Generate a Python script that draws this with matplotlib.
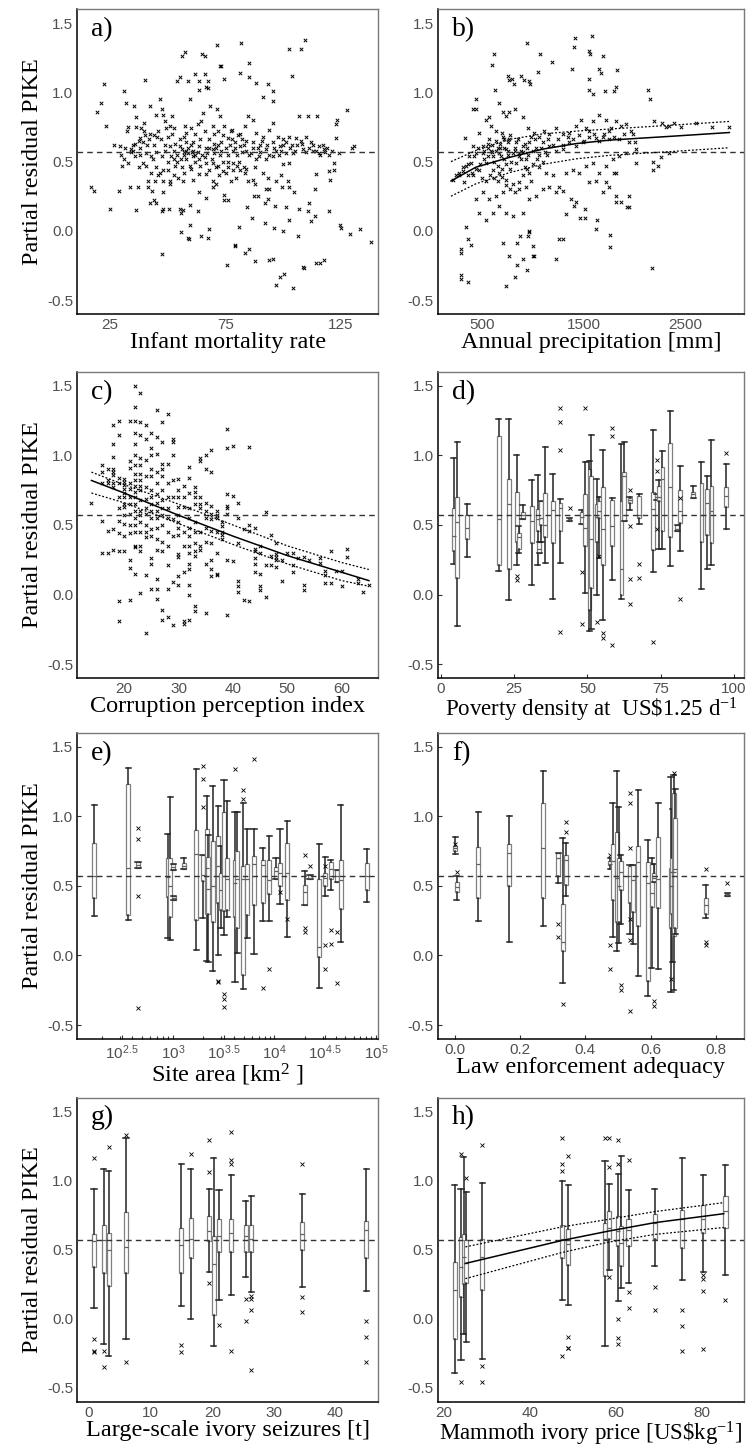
import matplotlib
matplotlib.use('Agg')
import matplotlib.pyplot as plt
import numpy as np

plt.rcParams['font.family'] = ['Liberation Sans', 'DejaVu Sans']
plt.rcParams['axes.unicode_minus'] = False

# ---------------- shared ----------------
Y_TICKS = [-0.5, 0.0, 0.5, 1.0, 1.5]
Y_TICKLABELS = ['-0.5', '0.0', '0.5', '1.0', '1.5']
REF_LEVEL = 0.57
YLABEL = 'Partial residual PIKE'

# ---------------- a) Infant mortality rate (scatter) ----------------
a_points = [
    (22.4,1.06),(21.1,0.92),(19.7,0.86),(23.6,0.76),(31,1.01),(40.3,1.09),(16.8,0.32),(18.2,0.29),(25,0.16),
    (29,0.29),(33.8,0.32),(36.5,0.15),(37.4,0.32),(41.7,0.32),(47.6,-0.17),(56.2,1.26),(57.5,1.29),(65,1.28),
    (66.4,1.26),(71.5,1.34),(72.5,1.19),(73,1.19),(74.2,1.1),(81.7,1.36),(85.1,1.21),(81.4,1.14),(85,1.11),
    (55.2,1.11),(54.2,1.08),(61.7,1.13),(66,1.13),(63.8,1.08),(67.4,1.08),(66.7,1.04),(67.5,1.03),(63.5,1.02),
    (59,1.08),(59.7,0.95),(88.1,1.07),(91.1,0.97),(93.3,1.06),(95.7,1.01),(95.4,0.94),(102.4,1.31),(103.8,1.12),
    (107.7,1.31),(109.6,1.38),(110.8,0.83),(106.6,0.83),(114.4,0.83),(127.6,0.87),(123,0.77),(123.4,0.8),
    (122.7,0.67),(129.9,0.6),(130.5,0.61),(119.8,0.43),(122,0.44),(122,0.49),(120,0.37),(114,0.41),(119.7,0.14),
    (124.4,0.04),(124.8,0.02),(128.9,-0.02),(133.2,0.01),(137.8,-0.08),(117.7,-0.21),(115.7,-0.23),(114.3,-0.23),
    (108.6,-0.26),(109,-0.27),(104.1,-0.41),(100.5,-0.31),(98.6,-0.33),(96.9,-0.39),(95.4,-0.2),(94,-0.21),
    (87.6,-0.22),(85.3,-0.13),(83.3,-0.16),(79.2,-0.1),(79.3,-0.11),(75.9,-0.25),(80.9,0.03),(86.6,0.09),
    (92.1,0.06),(96,0.02),(99.7,0.0),(102.7,0.08),(106.6,0.16),(106.3,-0.04),(110.6,0.14),(111.2,0.2),
    (113.9,0.11),(112,0.07),(113.9,0.3),(101.1,0.17),(104.5,0.28),(102.3,0.32),(99.5,0.32),(96.5,0.18),
    (93.6,0.23),(92.2,0.2),(89.3,0.25),(87.4,0.25),(84.3,0.17),(87,0.37),(83.6,0.42),(82.9,0.46),(79.7,0.38),
    (77.6,0.36),(74.2,0.26),(74.5,0.22),(76.1,0.22),(66.7,0.24),(63.8,0.28),(63.1,0.14),(59.5,0.19),(56.7,0.15),
    (55.9,0.13),(55.5,0.16),(50.6,0.16),(55.6,-0.01),(59,-0.05),(59.4,-0.06),(64.6,-0.04),(67.4,-0.05),
    (67.9,0.01),(59.5,0.04),(48,0.16),(47.4,0.14),(45.1,0.2),(44,0.22),(42.3,0.2),
    (32.6,0.72),(32.9,0.75),(36.5,0.75),(36.3,0.82),(35.3,0.90),(32.1,0.92),(39.9,0.78),(38.7,0.74),(42.6,0.9),
    (46.6,0.95),(45.1,0.84),(47.6,0.88),(47.9,0.84),(48.9,0.79),(52,0.83),(51.2,0.76),(49.2,0.74),(53,0.74),
    (45.4,0.68),(42.6,0.70),(40.3,0.69),(39.4,0.64),(37.7,0.65),(35.1,0.62),(34.4,0.59),(31.6,0.6),(29.3,0.61),
    (27,0.62),(30,0.55),(31.3,0.52),(30.5,0.47),(33.1,0.49),(37.5,0.46),(40.8,0.47),(43.7,0.52),(45.1,0.57),
    (47.6,0.54),(48.7,0.58),(51,0.61),(53.3,0.63),(55.2,0.66),(56.9,0.68),(58.1,0.71),(60.3,0.74),(57.4,0.76),
    (63.1,0.77),(64.6,0.79),(65.3,0.85),(68.2,0.9),(71.3,0.88),(72.5,0.83),(69.6,0.76),(71.7,0.72),(74.6,0.76),
    (77.5,0.72),(80.4,0.69),(83.3,0.76),(86.9,0.8),(88.3,0.71),(91.2,0.68),(94,0.73),(95.5,0.78),(97.7,0.68),
    (99.8,0.66),(102.7,0.68),(105.5,0.67),(107.7,0.65),(109.8,0.68),(112,0.64),(115.6,0.61),(117.8,0.59),
    (119.9,0.55),(115.6,0.56),(112.7,0.58),(108.5,0.59),(104.1,0.56),(101.2,0.56),(98.4,0.61),(95.5,0.64),
    (92.6,0.59),(89.7,0.54),(88.3,0.52),(92.6,0.52),(95.5,0.54),(99.8,0.48),(102.7,0.49),(99.1,0.4),
    (101.9,0.36),(97,0.36),(94,0.3),(92.6,0.3),(93.3,0.38),(91.2,0.42),(87.6,0.34),(84.7,0.36),(81.1,0.44),
    (78.2,0.49),(76.1,0.46),(73.9,0.43),(71,0.46),(69.6,0.49),(66.7,0.49),(63.8,0.52),(61,0.54),(58.8,0.56),
    (56.4,0.59),(58.1,0.52),(59.5,0.47),(56.4,0.46),(53.1,0.47),(50.2,0.5),(51.6,0.54),(48,0.44),(46.6,0.42),
    (45.8,0.4),(48,0.36),(50.9,0.36),(54.5,0.38),(56.7,0.36),(61,0.37),(63.8,0.41),(66.7,0.41),(69.6,0.36),
    (72.4,0.4),(75.2,0.42),(78.1,0.44),(72.5,0.55),(69.6,0.59),(75.4,0.6),(78.2,0.58),(81.1,0.61),(84,0.65),
    (86.9,0.6),(66.7,0.6),(63.8,0.61),(61,0.64),(58.1,0.64),(55.2,0.61),(53,0.58),(42.9,0.54),(40.8,0.56),
    (38.1,0.55),(35.8,0.54),(39.4,0.49),(43,0.42),(44.4,0.36),(41.5,0.36),(43.4,0.29),(48,0.28),(51,0.34),
    (69.6,0.32),(71,0.34),(81.1,0.7),(84.7,0.83),(60.5,0.57),(62,0.55),(57,0.57),(54,0.55),(64,0.66),(68,0.66),
    (70,0.63),(73,0.64),(76,0.67),(79,0.64),(82,0.57),(85,0.55),(90,0.62),(97,0.58),(100,0.62),(103,0.6),
    (106,0.62),(110,0.57),(113,0.62),(116,0.55),(118,0.57),(121,0.58),(124,0.56),
    (34,0.57),(35,0.58),(36,0.63),(38,0.6),(41,0.62),(42,0.66),(44,0.69),(46,0.72),(47,0.66),(49,0.62),
    (50,0.68),(52,0.7),(53,0.52),(54,0.5),(56,0.52),(57,0.55),(58,0.58),(59,0.6),(60,0.62),(61,0.58),(62,0.5),
    (63,0.57),(65,0.55),(66,0.53),(67,0.56),(68,0.6),(69,0.52),(70,0.56),(71,0.6),(72,0.62),(73,0.58),(74,0.5),
    (76,0.55),(77,0.62),(78,0.66),(79,0.6),(80,0.55),(81,0.5),(82,0.66),(83,0.62),(84,0.58),(86,0.56),(87,0.64),
    (89,0.6),(90,0.57),(91,0.65),(93,0.62),(94,0.55),(96,0.6),(98,0.55),(99,0.58),(101,0.64),(104,0.62),
    (105,0.58),(108,0.63),(111,0.6),(114,0.58),(117,0.62),(119,0.6),(45,0.46),(50,0.44),(53,0.4),(57,0.42),
    (60,0.45),(64,0.47),(68,0.44),(72,0.47),(76,0.5),(80,0.47),(84,0.45),(88,0.46),(44,0.62),(40,0.72),
    (38,0.67),(62,0.7),(66,0.72),(70,0.7),(74,0.69),(78,0.73),
]

# ---------------- b) Annual precipitation (scatter + fit) ----------------
b_points = [
    (1412,1.39),(1402,1.33),(1586,1.41),(1556,1.30),(1560,1.28),(1687,1.26),(1067,1.28),(943,1.36),(621,1.28),
    (602,1.2),(1186,1.22),(1382,1.17),(1651,1.17),(1671,1.14),(1828,1.16),(1549,1.1),(1048,1.15),(756,1.12),
    (762,1.09),(800,1.10),(884,1.12),(913,1.09),(959,1.08),(972,1.06),(812,1.06),(631,1.02),(1556,1.02),
    (1589,0.99),(1818,1.04),(1795,1.01),(1707,1.01),(2132,1.02),(2152,0.95),(441,0.95),(412,0.88),
    (293,-0.32),(293,-0.35),(366,-0.37),(736,-0.40),(828,-0.33),(844,-0.25),(943,-0.28),(903,-0.2),(766,-0.18),
    (1002,-0.18),(1010,-0.18),(1231,-0.2),(949,-0.04),(874,-0.04),(848,-0.09),(710,-0.09),(1005,-0.11),
    (959,0.0),(965,-0.01),(1258,-0.06),(1300,-0.06),(1760,-0.12),(1756,-0.03),(293,-0.13),(293,-0.16),
    (359,-0.06),(389,-0.1),(343,0.03),(2172,-0.27),(1622,0.01),(1632,0.08),(1464,0.09),(1517,0.09),(1327,0.12),
    (1517,0.16),(1924,0.17),(1871,0.21),(1818,0.21),(1425,0.21),(1402,0.18),(1372,0.23),(1300,0.29),(1228,0.28),
    (441,0.88),(474,0.71),(539,0.80),(572,0.82),(589,0.76),(670,0.92),(703,0.86),(736,0.83),(769,0.86),
    (825,0.88),(900,0.82),(949,0.74),(1015,0.71),(1064,0.68),(1113,0.72),(1163,0.70),(1228,0.74),(1294,0.70),
    (1359,0.71),(1425,0.76),(1474,0.80),(1523,0.74),(1589,0.79),(1655,0.84),(1720,0.80),(1769,0.74),
    (1818,0.79),(1868,0.76),(1917,0.77),(1966,0.72),(1753,0.66),(1687,0.68),(1622,0.67),(1556,0.68),
    (1490,0.64),(1425,0.61),(1359,0.64),(1294,0.59),(1228,0.58),(1163,0.61),(1097,0.64),(1031,0.60),
    (966,0.64),(900,0.61),(835,0.64),(769,0.66),(703,0.68),(638,0.72),(572,0.66),(507,0.61),(441,0.56),
    (375,0.54),(343,0.47),(310,0.43),(277,0.40),(408,0.40),(474,0.44),(539,0.49),(605,0.54),(670,0.56),
    (736,0.59),(802,0.56),(867,0.54),(933,0.52),(998,0.48),(1064,0.46),(1130,0.42),(1195,0.40),(605,0.44),
    (670,0.42),(736,0.37),(802,0.34),(867,0.30),(933,0.32),(703,0.28),(638,0.25),(572,0.23),(507,0.28),
    (441,0.23),(474,0.13),(539,0.08),(605,0.13),(670,0.18),(736,0.13),(802,0.11),(900,0.13),(966,0.23),
    (1031,0.25),(1097,0.30),(1163,0.32),(1261,0.32),(1327,0.42),(1392,0.44),(1458,0.42),(1523,0.47),
    (1589,0.49),(1655,0.42),(1720,0.47),(1786,0.52),(1851,0.54),(1917,0.56),(1950,0.64),(2015,0.59),
    (2008,0.64),(1982,0.70),(1556,0.35),(1622,0.36),(1720,0.35),(1802,0.42),(1687,0.28),(1753,0.32),
    (1818,0.25),(1950,0.25),(1950,0.17),(1818,0.42),(2015,0.49),(2179,0.44),(2228,0.47),(2261,0.53),
    (2179,0.50),(2195,0.79),(2274,0.78),(2340,0.76),(2389,0.78),(2454,0.75),(2602,0.78),(2766,0.75),
    (2930,0.75),(2307,0.75),(2343,0.56),
    (211,0.37),(244,0.40),(277,0.42),(316,0.46),(359,0.48),(326,0.35),(392,0.49),(425,0.54),(333,0.67),
    (408,0.61),(458,0.60),(507,0.56),(556,0.54),(589,0.58),(654,0.60),(687,0.54),(720,0.52),(753,0.55),
    (786,0.50),(835,0.49),(884,0.52),(926,0.46),(959,0.42),(560,0.60),(600,0.62),(640,0.58),(680,0.63),
    (720,0.60),(760,0.64),(820,0.58),(860,0.56),(900,0.57),(940,0.60),(1000,0.58),(1060,0.55),(520,0.52),
    (480,0.48),(440,0.45),(400,0.42),(360,0.40),(620,0.50),(660,0.47),(700,0.45),(740,0.48),(780,0.45),
    (520,0.58),(560,0.63),(600,0.57),(640,0.65),(680,0.60),(700,0.71),(720,0.66),(760,0.58),(780,0.69),
    (820,0.60),(850,0.66),(880,0.58),(920,0.63),(950,0.55),(980,0.68),(1020,0.66),(1080,0.6),(1120,0.57),
    (1150,0.66),(1200,0.62),(1250,0.66),(1300,0.62),(1350,0.68),(1400,0.66),(1450,0.69),(1500,0.65),
    (1550,0.72),(1600,0.7),(1650,0.65),(1700,0.7),(1750,0.72),(1800,0.68),(1850,0.66),(1900,0.7),(500,0.38),
    (540,0.36),(580,0.40),(620,0.38),(660,0.36),(700,0.39),(740,0.33),(780,0.30),(820,0.28),(860,0.35),
    (900,0.40),(940,0.45),(980,0.36),(1040,0.52),(1100,0.50),(1140,0.55),
]
b_fit_x = [195, 441, 769, 1097, 1425, 1753, 2081, 2409, 2934]
b_fit = [0.36, 0.46, 0.53, 0.59, 0.63, 0.655, 0.67, 0.685, 0.71]
b_upper = [0.50, 0.58, 0.66, 0.70, 0.72, 0.735, 0.75, 0.765, 0.79]
b_lower = [0.25, 0.34, 0.42, 0.48, 0.52, 0.545, 0.56, 0.575, 0.60]

# ---------------- c) Corruption perception index ----------------
c_columns = {
    14: [0.66],
    16: [0.93, 0.88, 0.80, 0.53, 0.30],
    17: [0.90, 0.82, 0.80, 0.46, 0.30],
    18: [1.22, 1.08, 0.99, 0.90, 0.88, 0.86, 0.80, 0.77, 0.47, 0.32],
    19: [1.25, 1.15, 0.84, 0.80, 0.70, 0.62, 0.53, 0.44, 0.31, -0.05, -0.19],
    20: [0.83, 0.81, 0.79, 0.76, 0.73, 0.70, 0.65, 0.63, 0.57, 0.51, 0.42, 0.31],
    21: [1.25, 0.96, 0.91, 0.80, 0.76, 0.70, 0.65, 0.58, 0.50, 0.44, 0.25, 0.19, -0.04],
    22: [1.50, 1.35, 1.25, 1.16, 1.08, 1.0, 0.93, 0.87, 0.82, 0.78, 0.74, 0.70, 0.65, 0.60, 0.55, 0.50,
         0.45, 0.35, 0.34, 0.15],
    23: [1.45, 1.24, 1.15, 0.98, 0.93, 0.87, 0.82, 0.78, 0.75, 0.68, 0.60, 0.57, 0.52, 0.45, 0.35, 0.31, 0.01],
    24: [1.22, 1.12, 0.97, 0.85, 0.77, 0.69, 0.62, 0.58, 0.50, 0.45, 0.41, 0.14, -0.28],
    25: [1.16, 1.05, 1.0, 0.90, 0.85, 0.75, 0.70, 0.65, 0.60, 0.55, 0.47, 0.42, 0.26, 0.22, 0.04],
    26: [1.33, 1.13, 1.01, 0.88, 0.80, 0.72, 0.66, 0.60, 0.55, 0.48, 0.40, 0.32, 0.11, 0.04, -0.03],
    27: [1.24, 1.10, 0.94, 0.90, 0.85, 0.75, 0.68, 0.62, 0.57, 0.50, 0.38, 0.31, -0.11, -0.18],
    28: [1.30, 0.94, 0.80, 0.70, 0.62, 0.55, 0.45, 0.35, 0.21, 0.04, -0.16],
    29: [1.12, 1.10, 1.0, 0.82, 0.70, 0.54, 0.42, 0.09, -0.22],
    30: [0.83, 0.75, 0.70, 0.63, 0.57, 0.52, 0.48, 0.43, 0.29, 0.27, 0.13, 0.07],
    31: [0.78, 0.70, 0.63, 0.45, 0.35, 0.16, -0.19, -0.21],
    32: [0.92, 0.84, 0.73, 0.62, 0.55, 0.48, 0.42, 0.35, 0.30, 0.22, 0.18, 0.07, 0.00, -0.18],
    33: [0.77, 0.74, 0.70, 0.65, 0.52, 0.45, 0.37, 0.31, 0.28, -0.08, -0.12],
    34: [0.98, 0.96, 0.70, 0.65, 0.62, 0.45, 0.35, 0.32],
    35: [1.0, 0.90, 0.66, 0.60, 0.55, 0.48, 0.38, 0.22, -0.13],
    36: [1.04, 0.88, 0.64, 0.58, 0.54, 0.46, 0.37, 0.25, 0.18, 0.13],
    37: [0.60, 0.57, 0.55, 0.45, 0.30, 0.15, 0.14],
    38: [0.52, 0.49, 0.45, 0.43, 0.40],
    39: [1.19, 1.05, 0.72, 0.64, 0.62, 0.58, 0.25, -0.15],
    40: [1.07, 0.71, 0.24],
    41: [0.66, 0.55, 0.37, 0.10, 0.06, 0.02],
    42: [0.47, -0.04],
    43: [1.06, 0.50, 0.46, -0.05],
    44: [0.48, 0.33, 0.31, 0.26, 0.22, 0.16],
    45: [0.35, 0.30, 0.15, 0.06, 0.03],
    46: [0.59, 0.21, -0.02],
    47: [0.43, 0.28, 0.21],
    48: [0.37, 0.29, 0.27, 0.25, 0.20],
    49: [0.25, 0.10],
    50: [0.30],
    51: [0.30, 0.21, 0.16],
    52: [0.26],
    53: [0.27, 0.07, 0.03],
    54: [0.25],
    56: [0.26, 0.23],
    57: [0.17, 0.14, 0.08],
    58: [0.31, 0.08],
    59: [0.17],
    60: [0.17, 0.06],
    61: [0.33, 0.27],
    63: [0.11, 0.08],
    64: [0.02],
    65: [0.07],
}
c_fit_x = [14, 20, 30, 40, 50, 60, 65]
c_fit = [0.82, 0.73, 0.57, 0.42, 0.28, 0.16, 0.10]
c_upper = [0.88, 0.79, 0.65, 0.50, 0.35, 0.23, 0.18]
c_lower = [0.73, 0.66, 0.51, 0.36, 0.22, 0.10, 0.06]

# ---------------- boxplot panels: (position, whislo, q1, med, q3, whishi, outliers) ----------------
d_boxes = [
    (4.4, 0.22, 0.31, 0.42, 0.62, 0.98, []), (5.6, -0.23, 0.12, 0.52, 0.70, 1.10, []),
    (9.0, 0.27, 0.40, 0.48, 0.57, 0.65, []), (19.7, 0.17, 0.21, 0.54, 1.14, 1.26, []),
    (23.2, -0.04, 0.18, 0.65, 0.83, 1.26, []), (25.9, 0.21, 0.38, 0.50, 0.74, 1.00, [0.13, 0.105]),
    (26.6, 0.30, 0.33, 0.41, 0.44, 0.49, []), (28.0, 0.54, 0.54, 0.57, 0.59, 0.645, []),
    (31.0, 0.07, 0.37, 0.53, 0.635, 0.82, []), (33.1, 0.21, 0.455, 0.54, 0.615, 0.86, []),
    (33.6, 0.30, 0.30, 0.33, 0.38, 0.38, []), (34.2, 0.38, 0.50, 0.55, 0.67, 0.67, []),
    (35.6, 0.23, 0.41, 0.50, 0.73, 1.06, []), (38.2, -0.03, 0.37, 0.61, 0.67, 0.87, []),
    (40.8, 0.225, 0.455, 0.62, 0.66, 0.69, [1.34, 1.24, 1.04, -0.27]), (43.9, 0.53, 0.53, 0.54, 0.55, 0.55, [0.62]),
    (48.1, 0.51, 0.51, 0.56, 0.59, 0.61, [0.16, -0.21]), (49.2, 0.01, 0.35, 0.48, 0.72, 0.95, [1.34]),
    (50.7, -0.26, -0.11, 0.57, 0.90, 0.96, []), (51.3, -0.245, 0.05, 0.40, 0.85, 1.145, []),
    (53.1, 0.0, 0.38, 0.56, 0.65, 0.83, [-0.20]), (54.0, 0.26, 0.55, 0.60, 0.67, 0.70, [0.28]),
    (55.3, -0.18, 0.21, 0.47, 0.775, 1.04, [-0.28, -0.31]), (58.5, 0.105, 0.35, 0.49, 0.68, 0.695, [1.20, 1.14, -0.365]),
    (61.6, -0.03, 0.0, 0.18, 0.67, 1.08, []), (62.5, 0.53, 0.53, 0.85, 0.88, 1.10, []),
    (64.4, 0.61, 0.66, 0.68, 0.695, 0.70, [0.75, 0.49, 0.11, -0.07]), (67.6, 0.51, 0.55, 0.575, 0.71, 0.72, [0.22, 0.12]),
    (72.4, 0.16, 0.32, 0.615, 0.74, 1.18, [-0.34]), (73.6, 0.68, 0.68, 0.70, 0.72, 0.72, [0.965, 0.89, 0.47]),
    (74.4, 0.33, 0.67, 0.70, 0.78, 0.82, []), (75.6, 0.33, 0.455, 0.83, 0.92, 1.03, []),
    (78.3, 0.205, 0.41, 0.77, 1.09, 1.32, []), (80.6, 0.455, 0.455, 0.47, 0.50, 0.50, []),
    (81.7, 0.315, 0.515, 0.60, 0.755, 0.924, [0.695, -0.035]), (86.1, 0.695, 0.695, 0.72, 0.74, 0.78, []),
    (88.9, 0.04, 0.375, 0.575, 0.80, 0.955, []), (90.8, 0.18, 0.43, 0.66, 0.76, 0.85, []),
    (92.3, 0.21, 0.37, 0.60, 0.78, 1.11, []), (97.4, 0.47, 0.63, 0.71, 0.77, 0.935, [1.02]),
]

# e) positions are log10(site area in km^2)
e_boxes = [
    (2.228, 0.285, 0.417, 0.57, 0.807, 1.08, []), (2.563, 0.253, 0.29, 0.627, 1.23, 1.35, []),
    (2.658, 0.626, 0.626, 0.65, 0.675, 0.675, [0.92, 0.84, 0.43, -0.38]), (2.951, 0.126, 0.42, 0.566, 0.70, 0.874, []),
    (2.975, 0.114, 0.28, 0.50, 0.70, 1.14, []), (3.006, 0.614, 0.614, 0.635, 0.655, 0.655, []),
    (3.012, 0.40, 0.40, 0.41, 0.43, 0.43, []), (3.108, 0.62, 0.62, 0.64, 0.667, 0.70, []),
    (3.232, 0.036, 0.253, 0.73, 0.90, 1.34, []), (3.295, 0.27, 0.535, 0.58, 0.72, 0.72, [1.365, 1.27, 1.065]),
    (3.335, -0.04, 0.295, 0.63, 0.91, 1.15, []), (3.35, -0.05, 0.30, 0.48, 0.71, 0.87, []),
    (3.394, -0.115, 0.24, 0.50, 0.82, 1.22, []), (3.449, 0.0, 0.38, 0.64, 0.86, 1.076, [-0.18, -0.19]),
    (3.47, 0.20, 0.33, 0.47, 0.595, 0.79, []), (3.505, 0.15, 0.32, 0.57, 1.03, 1.26, [-0.28, -0.31, -0.37]),
    (3.537, 0.28, 0.33, 0.55, 0.70, 1.11, []), (3.613, -0.19, 0.28, 0.52, 0.69, 1.03, [1.34]),
    (3.636, 0.02, 0.20, 0.55, 0.75, 1.03, []), (3.695, -0.24, -0.14, 0.55, 0.64, 1.10, [1.19, 1.125]),
    (3.734, 0.126, 0.29, 0.55, 0.66, 0.91, []), (3.80, 0.01, 0.36, 0.655, 0.715, 0.91, [1.41]),
    (3.886, 0.246, 0.38, 0.65, 0.69, 0.77, [-0.235]), (3.951, 0.246, 0.44, 0.54, 0.69, 0.86, [-0.10]),
    (4.017, 0.547, 0.547, 0.61, 0.636, 0.70, []), (4.056, 0.367, 0.50, 0.595, 0.667, 0.91, [0.46]),
    (4.128, 0.13, 0.40, 0.595, 0.81, 0.97, [0.26]), (4.299, 0.36, 0.36, 0.46, 0.504, 0.61, [0.72, 0.20, 0.17]),
    (4.35, 0.55, 0.55, 0.56, 0.58, 0.58, [0.64]), (4.443, -0.235, -0.01, 0.06, 0.547, 0.80, []),
    (4.50, 0.43, 0.50, 0.56, 0.595, 0.71, [0.64, 0.077, -0.10]), (4.555, 0.47, 0.55, 0.62, 0.67, 0.69, [0.18, 0.086]),
    (4.62, 0.53, 0.53, 0.57, 0.615, 0.615, [0.17, -0.20]), (4.654, 0.097, 0.337, 0.54, 0.687, 1.084, []),
    (4.909, 0.386, 0.47, 0.57, 0.667, 0.763, []),
]

f_boxes = [
    (0.000, 0.73, 0.75, 0.77, 0.79, 0.85, [0.80]), (0.005, 0.40, 0.46, 0.49, 0.53, 0.57, [0.60]),
    (0.071, 0.25, 0.415, 0.66, 0.78, 1.03, []), (0.166, 0.10, 0.50, 0.74, 0.80, 1.0, []),
    (0.271, 0.215, 0.415, 0.77, 1.10, 1.33, []), (0.317, 0.52, 0.57, 0.70, 0.74, 0.74, [0.23, 0.13]),
    (0.330, -0.20, 0.03, 0.10, 0.37, 0.845, [-0.35]), (0.340, 0.43, 0.51, 0.69, 0.72, 0.81, [0.96, 0.89]),
    (0.476, 0.62, 0.65, 0.66, 0.68, 0.70, [0.72, 0.075, -0.10]), (0.484, 0.13, 0.40, 0.68, 0.80, 1.10, []),
    (0.496, 0.03, 0.24, 0.56, 0.89, 1.33, []), (0.502, 0.09, 0.24, 0.50, 0.70, 1.07, []),
    (0.509, 0.23, 0.47, 0.60, 0.68, 0.72, [-0.21, -0.25]),
    (0.537, 0.155, 0.38, 0.57, 0.64, 0.65, [1.17, 1.10, 0.77, 0.26, 0.11, -0.40]),
    (0.547, 0.08, 0.31, 0.54, 0.65, 0.65, []), (0.562, -0.15, 0.21, 0.67, 0.79, 1.19, []),
    (0.592, -0.29, -0.18, 0.52, 0.67, 0.83, []), (0.604, -0.09, 0.35, 0.45, 0.66, 0.70, []),
    (0.612, 0.53, 0.53, 0.56, 0.59, 0.66, [-0.33, -0.36]), (0.624, -0.10, 0.34, 0.55, 0.855, 1.10, []),
    (0.663, -0.26, 0.20, 0.50, 0.63, 1.28, [-0.17]), (0.667, -0.05, 0.30, 0.60, 0.70, 1.05, []),
    (0.671, -0.25, 0.14, 0.60, 1.17, 1.30, [1.31]), (0.676, 0.155, 0.20, 0.62, 0.99, 1.20, []),
    (0.770, 0.27, 0.30, 0.36, 0.41, 0.51, [0.62, 0.095, 0.075]), (0.836, 0.43, 0.43, 0.44, 0.45, 0.45, [0.52]),
]

g_boxes = [
    (0.8, 0.08, 0.375, 0.56, 0.615, 0.94, [1.16, -0.15, -0.23, -0.24]),
    (2.4, -0.18, 0.33, 0.57, 0.68, 1.08, [-0.23, -0.35]),
    (3.2, -0.27, 0.24, 0.50, 0.62, 1.07, [1.24]),
    (6.0, -0.15, 0.33, 0.52, 0.77, 1.31, [1.33, -0.31]),
    (15.0, 0.09, 0.33, 0.53, 0.66, 1.12, [-0.19, -0.24]),
    (16.5, 0.0, 0.44, 0.575, 0.73, 1.08, [1.19]),
    (19.5, 0.335, 0.56, 0.635, 0.74, 0.94, [1.29, 1.06, 0.26]),
    (20.2, -0.20, 0.03, 0.395, 0.60, 1.16, []),
    (21.1, 0.135, 0.48, 0.60, 0.72, 0.93, [-0.045]),
    (23.1, 0.17, 0.48, 0.62, 0.72, 1.04, [1.35, 1.15, 1.12, -0.23]),
    (25.4, 0.30, 0.48, 0.60, 0.68, 0.85, [0.14, -0.02]),
    (26.3, 0.19, 0.48, 0.575, 0.68, 0.89, [0.166, 0.14, 0.06, -0.37]),
    (34.6, 0.23, 0.50, 0.615, 0.70, 0.90, [1.12, 0.16, 0.05]),
    (45.0, 0.20, 0.44, 0.64, 0.71, 1.08, [-0.015, -0.13, -0.31]),
]

h_boxes = [
    (22.5, -0.39, -0.15, 0.21, 0.41, 0.97, []),
    (24.0, -0.30, 0.16, 0.375, 0.59, 0.94, [1.19, -0.46]),
    (24.6, -0.11, 0.25, 0.45, 0.61, 1.17, []),
    (25.2, -0.17, 0.26, 0.40, 0.57, 0.92, [1.02]),
    (28.9, -0.29, 0.21, 0.45, 0.575, 0.98, [1.26, -0.34, -0.46]),
    (47.6, 0.135, 0.44, 0.58, 0.68, 1.0, [1.31, 1.12, 1.07, -0.27]),
    (49.0, 0.10, 0.39, 0.54, 0.65, 0.97, [1.18, -0.13, -0.21, -0.215]),
    (57.5, -0.20, 0.31, 0.575, 0.695, 1.14, [1.31]),
    (58.5, 0.35, 0.575, 0.66, 0.78, 0.975, [1.31, 1.10, 0.30]),
    (60.6, 0.125, 0.525, 0.635, 0.74, 1.05, [1.29, 1.12, 0.0, -0.14, -0.18]),
    (61.3, 0.22, 0.38, 0.55, 0.67, 1.175, []),
    (63.0, 0.26, 0.525, 0.645, 0.72, 0.93, [1.15, 0.19, 0.08]),
    (69.1, 0.38, 0.575, 0.69, 0.76, 0.935, [0.226, 0.065]),
    (75.5, 0.28, 0.51, 0.72, 0.79, 1.16, [0.065, -0.05, -0.23]),
    (80.4, 0.335, 0.62, 0.72, 0.82, 1.04, [0.315, 0.29, 0.20, -0.22]),
    (85.6, 0.315, 0.66, 0.78, 0.89, 1.11, [0.135]),
]
h_fit_x = [25.0, 47.6, 58.5, 69.1, 85.2]
h_fit = [0.40, 0.567, 0.635, 0.695, 0.76]
h_upper = [0.52, 0.665, 0.72, 0.775, 0.84]
h_lower = [0.29, 0.48, 0.555, 0.61, 0.66]

# ---------------- drawing ----------------
fig = plt.figure(figsize=(7.52, 14.48), dpi=100)
LEFT = [0.1028, 0.5824]
WIDTH = [0.400, 0.4069]
ROW_BOTTOM = [0.7832, 0.5318, 0.2825, 0.0320]
ROW_H = [0.2104, 0.2113, 0.2113, 0.2100]


def make_ax(row, col):
    return fig.add_axes([LEFT[col], ROW_BOTTOM[row], WIDTH[col], ROW_H[row]])


def style(ax, letter, xlabel, ylab, ticks=False, xlabel_size=17.5):
    ax.set_ylim(-0.6, 1.6)
    ax.set_yticks(Y_TICKS)
    ax.set_yticklabels(Y_TICKLABELS)
    for s in ['left', 'bottom']:
        ax.spines[s].set_color('black')
        ax.spines[s].set_linewidth(1.1)
    for s in ['top', 'right']:
        ax.spines[s].set_color('#7a7a7a')
        ax.spines[s].set_linewidth(1.0)
    ax.tick_params(which='both', labelsize=11, labelcolor='#505050', direction='in',
                   length=3 if ticks else 0, width=0.8, color='#333333', pad=3)
    ax.tick_params(which='minor', length=2 if ticks else 0)
    ax.axhline(REF_LEVEL, ls=(0, (4, 3)), color='#333333', lw=1.0, zorder=6)
    ax.text(0.045, 0.975, letter, transform=ax.transAxes, fontfamily='Liberation Serif',
            fontsize=20, va='top', ha='left')
    ax.set_xlabel(xlabel, fontfamily='Liberation Serif', fontsize=xlabel_size, labelpad=0)
    if ylab:
        ax.set_ylabel(YLABEL, fontfamily='Liberation Serif', fontsize=17.5, labelpad=3)


def scatter(ax, xs, ys):
    ax.scatter(xs, ys, marker='x', s=6, linewidths=0.7, color='black', zorder=3)


def fit_lines(ax, xs, fit, up, lo):
    ax.plot(xs, fit, color='black', lw=1.1, zorder=7)
    ax.plot(xs, up, color='black', lw=0.9, ls=(0, (1.5, 1.5)), zorder=7)
    ax.plot(xs, lo, color='black', lw=0.9, ls=(0, (1.5, 1.5)), zorder=7)


def boxes(ax, data, width, logpos=False):
    stats = []
    pos = []
    for p, lo, q1, med, q3, hi, out in data:
        stats.append(dict(whislo=lo, q1=q1, med=med, q3=q3, whishi=hi, fliers=list(out)))
        pos.append(10 ** p if logpos else p)
    pos = np.array(pos)
    widths = pos * width if logpos else np.full(len(pos), width)
    ax.bxp(stats, positions=pos, widths=widths, capwidths=widths * 1.3,
           patch_artist=True, manage_ticks=False,
           boxprops=dict(facecolor='white', edgecolor='#808080', linewidth=0.9),
           whiskerprops=dict(color='#222222', linewidth=1.1, linestyle='-'),
           capprops=dict(color='#222222', linewidth=1.1),
           medianprops=dict(color='#606060', linewidth=0.9),
           flierprops=dict(marker='x', markersize=2.6, markeredgecolor='black',
                           markeredgewidth=0.6, linestyle='none'))


# a
ax = make_ax(0, 0)
ax_x, ax_y = zip(*a_points)
scatter(ax, ax_x, ax_y)
ax.set_xlim(11, 141)
ax.set_xticks([25, 75, 125])
style(ax, 'a)', 'Infant mortality rate', True)

# b
ax = make_ax(0, 1)
bx, by = zip(*b_points)
scatter(ax, bx, by)
fit_lines(ax, b_fit_x, b_fit, b_upper, b_lower)
ax.set_xlim(67, 3077)
ax.set_xticks([500, 1500, 2500])
style(ax, 'b)', 'Annual precipitation [mm]', False)

# c
ax = make_ax(1, 0)
cx = [k for k, v in c_columns.items() for _ in v]
cy = [y for v in c_columns.values() for y in v]
scatter(ax, cx, cy)
fit_lines(ax, c_fit_x, c_fit, c_upper, c_lower)
ax.set_xlim(11.4, 66.7)
ax.set_xticks([20, 30, 40, 50, 60])
style(ax, 'c)', 'Corruption perception index', True)

# d
ax = make_ax(1, 1)
boxes(ax, d_boxes, 1.3)
ax.set_xlim(-1, 103.4)
ax.set_xticks([0, 25, 50, 75, 100])
style(ax, 'd)', r'Poverty density at  US\$1.25 d$\mathregular{^{-1}}$', False, ticks=True,
      xlabel_size=16.5)

# e
ax = make_ax(2, 0)
ax.set_xscale('log')
boxes(ax, e_boxes, 0.09, logpos=True)
ax.set_xlim(10 ** 2.061, 10 ** 5.02)
e_ticks = [2.5, 3, 3.5, 4, 4.5, 5]
ax.set_xticks([10 ** t for t in e_ticks])
ax.set_xticklabels([r'$\mathregular{10^{%g}}$' % t for t in e_ticks])
style(ax, 'e)', r'Site area [km$\mathregular{^2}$ ]', True, ticks=True)

# f
ax = make_ax(2, 1)
boxes(ax, f_boxes, 0.012)
ax.set_xlim(-0.053, 0.887)
ax.set_xticks([0, 0.2, 0.4, 0.6, 0.8])
ax.set_xticklabels(['0.0', '0.2', '0.4', '0.6', '0.8'])
style(ax, 'f)', 'Law enforcement adequacy', False, ticks=True)

# g
ax = make_ax(3, 0)
boxes(ax, g_boxes, 0.65)
ax.set_xlim(-1.9, 46.9)
ax.set_xticks([0, 10, 20, 30, 40])
style(ax, 'g)', 'Large-scale ivory seizures [t]', True)

# h
ax = make_ax(3, 1)
boxes(ax, h_boxes, 0.95)
fit_lines(ax, h_fit_x, h_fit, h_upper, h_lower)
ax.set_xlim(18.6, 89.9)
ax.set_xticks([20, 40, 60, 80])
style(ax, 'h)', r'Mammoth ivory price [US\$kg$\mathregular{^{-1}}$]', False, xlabel_size=16.5)

fig.savefig('out.png', dpi=100)
